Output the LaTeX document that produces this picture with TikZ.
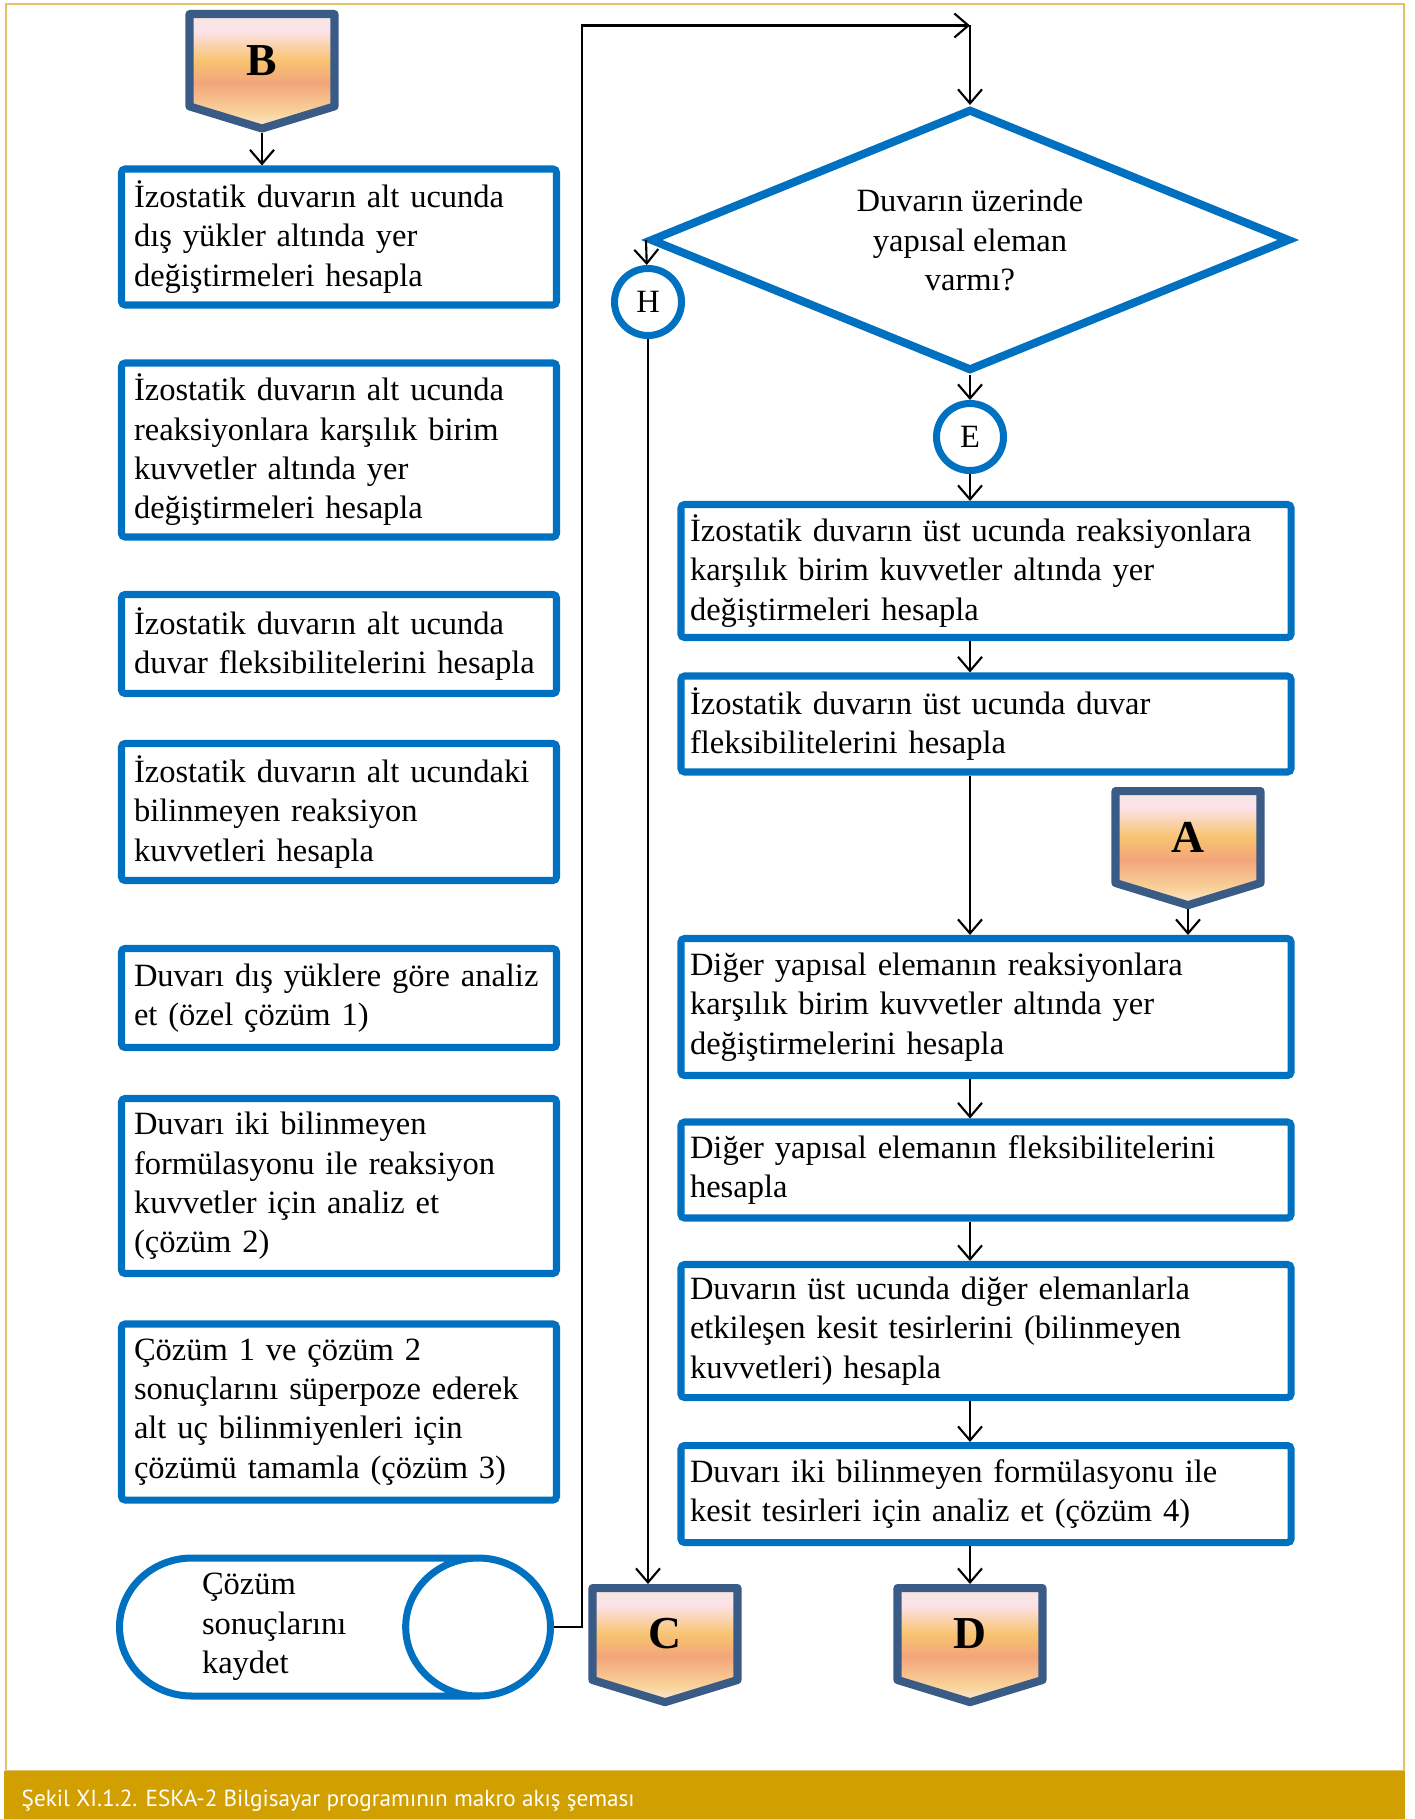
\documentclass[tikz,border=0pt]{standalone}
\usepackage{fontspec}
\setmainfont{Liberation Serif}
\newfontfamily\capfont{PT Sans}
\usetikzlibrary{shapes.geometric,shapes.symbols,arrows.meta}

\definecolor{boxblue}{HTML}{0070C0}
\definecolor{pageblue}{HTML}{3B5B87}
\definecolor{framegold}{HTML}{E6C266}
\definecolor{bargold}{HTML}{D29F00}
\definecolor{shTop}{HTML}{F6E6DA}
\definecolor{shPink}{HTML}{FCE3EC}
\definecolor{shOrange}{HTML}{F8C471}
\definecolor{shSalmon}{HTML}{F3A57A}
\definecolor{shLight}{HTML}{F9D39A}
\definecolor{shBot}{HTML}{FCEADB}
\pgfdeclareverticalshading{peach}{100bp}{color(0bp)=(shBot); color(25bp)=(shBot); color(32bp)=(shLight); color(45bp)=(shSalmon); color(55bp)=(shOrange); color(68bp)=(shPink); color(75bp)=(shTop); color(100bp)=(shTop)}

\begin{document}
\begin{tikzpicture}[
  font=\fontsize{9.25}{11.2}\selectfont,
  >={Straight Barb[length=1.4mm,width=2.4mm]},
  flow/.style={->, line width=0.6pt},
  stepbox/.style={draw=boxblue, line width=2pt, rounded corners=1pt, align=left, inner ysep=0pt},
  leftbox/.style={stepbox, inner xsep=0.125cm, minimum width=4.35cm, text width=4.10cm},
  rightbox/.style={stepbox, inner xsep=0.09cm, minimum width=6.10cm, text width=5.92cm},
  offpage/.style={signal, signal to=south, signal pointer angle=146, draw=pageblue, line width=2.3pt, line join=round, shading=peach, minimum width=1.45cm, minimum height=0.97cm, inner sep=0pt, anchor=north, font=\fontsize{13}{15}\selectfont\bfseries},
  joint/.style={circle, draw=boxblue, line width=2pt, minimum size=0.67cm, inner sep=0pt}
]
\useasboundingbox (0,0) rectangle (14.15,-18.19);
% frame and caption bar
\draw[framegold, line width=0.8pt] (0.06,-0.04) rectangle (14.04,-17.71);
\fill[bargold] (0.04,-17.71) rectangle (14.05,-18.19);
\node[anchor=west, text=white, inner sep=0pt, font=\capfont\fontsize{6.6}{7.5}\selectfont] (cap) at (0.21,-18.01) {Şekil XI.1.2. ESKA-2 Bilgisayar programının makro akış şeması};

% left column
\node[offpage] (B) at (2.62,-0.10) {B};
\node[leftbox, minimum height=1.36cm] (alt1) at (3.39,-2.37) {İzostatik duvarın alt ucunda\\dış yükler altında yer\\değiştirmeleri hesapla};
\node[leftbox, minimum height=1.74cm] (alt2) at (3.39,-4.50) {İzostatik duvarın alt ucunda\\reaksiyonlara karşılık birim\\kuvvetler altında yer\\değiştirmeleri hesapla};
\node[leftbox, minimum height=0.99cm] (alt3) at (3.39,-6.44) {İzostatik duvarın alt ucunda\\duvar fleksibilitelerini hesapla};
\node[leftbox, minimum height=1.37cm] (alt4) at (3.39,-8.12) {İzostatik duvarın alt ucundaki\\bilinmeyen reaksiyon\\kuvvetleri hesapla};
\node[leftbox, minimum height=0.99cm] (sol1) at (3.39,-9.98) {Duvarı dış yüklere göre analiz\\et (özel çözüm 1)};
\node[leftbox, minimum height=1.75cm] (sol2) at (3.39,-11.86) {Duvarı iki bilinmeyen\\formülasyonu ile reaksiyon\\kuvvetler için analiz et\\(çözüm 2)};
\node[leftbox, minimum height=1.76cm] (sol3) at (3.39,-14.12) {Çözüm 1 ve çözüm 2\\sonuçlarını süperpoze ederek\\alt uç bilinmiyenleri için\\çözümü tamamla (çözüm 3)};
\node[cylinder, draw=boxblue, line width=2pt, shape aspect=1.35, minimum height=4.31cm, minimum width=1.38cm, text width=1.9cm, align=left, inner sep=0pt, anchor=shape center] (store) at (3.35,-16.27) {Çözüm\\sonuçlarını\\kaydet};

% right column
\node[diamond, draw=boxblue, line width=2.3pt, shape aspect=2.5, minimum width=6.40cm, minimum height=2.62cm, align=center, inner sep=0pt] (dec) at (9.70,-2.40) {Duvarın üzerinde\\yapısal eleman\\varmı?};
\node[joint] (H) at (6.48,-3.02) {H};
\node[joint] (E) at (9.70,-4.37) {E};
\node[rightbox, minimum height=1.33cm] (ust1) at (9.86,-5.71) {İzostatik duvarın üst ucunda reaksiyonlara\\karşılık birim kuvvetler altında yer\\değiştirmeleri hesapla};
\node[rightbox, minimum height=0.96cm] (ust2) at (9.86,-7.24) {İzostatik duvarın üst ucunda duvar\\fleksibilitelerini hesapla};
\node[offpage] (A) at (11.88,-7.87) {A};
\node[rightbox, minimum height=1.37cm] (elm1) at (9.86,-10.07) {Diğer yapısal elemanın reaksiyonlara\\karşılık birim kuvvetler altında yer\\değiştirmelerini hesapla};
\node[rightbox, minimum height=0.96cm] (elm2) at (9.86,-11.70) {Diğer yapısal elemanın fleksibilitelerini\\hesapla};
\node[rightbox, minimum height=1.33cm] (kes1) at (9.86,-13.31) {Duvarın üst ucunda diğer elemanlarla\\etkileşen kesit tesirlerini (bilinmeyen\\kuvvetleri) hesapla};
\node[rightbox, minimum height=0.97cm] (kes2) at (9.86,-14.94) {Duvarı iki bilinmeyen formülasyonu ile\\kesit tesirleri için analiz et (çözüm 4)};
\node[offpage] (C) at (6.65,-15.84) {C};
\node[offpage] (D) at (9.70,-15.84) {D};

% connectors
\coordinate (turn) at (5.82,-0.255);
\coordinate (top) at (9.70,-0.255);
\draw[flow] (B.south) -- (B.south |- alt1.north);
\draw[flow] (store.east) -| (turn) -- (top);
\draw[flow] (top) -- (dec.north);
\draw[flow] (dec.west) -- (H);
\draw[flow] (H) -- (H |- C.north);
\draw[flow] (dec.south) -- (E);
\draw[flow] (E) -- (E |- ust1.north);
\draw[flow] (E |- ust1.south) -- (E |- ust2.north);
\draw[flow] (E |- ust2.south) -- (E |- elm1.north);
\draw[flow] (A.south) -- (A.south |- elm1.north);
\draw[flow] (E |- elm1.south) -- (E |- elm2.north);
\draw[flow] (E |- elm2.south) -- (E |- kes1.north);
\draw[flow] (E |- kes1.south) -- (E |- kes2.north);
\draw[flow] (E |- kes2.south) -- (D.north);
\end{tikzpicture}
\end{document}
